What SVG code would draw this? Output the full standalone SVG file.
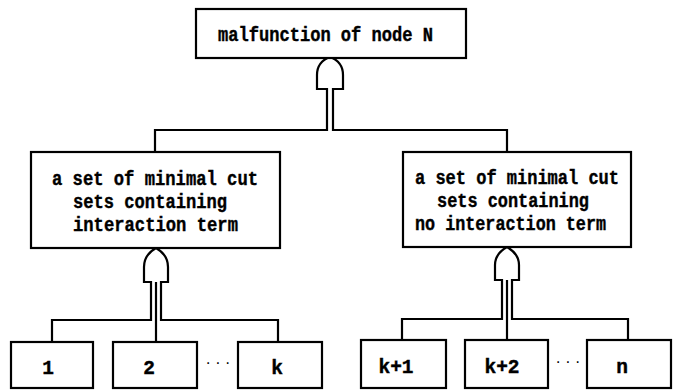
<svg xmlns="http://www.w3.org/2000/svg" width="673" height="390" viewBox="0 0 673 390">
<style>
.box{fill:#fff;stroke:#000;stroke-width:2.2}
.ln{fill:none;stroke:#000;stroke-width:2.2;stroke-linejoin:miter}
.t{font-family:"Liberation Mono","DejaVu Sans Mono",monospace;font-weight:bold;font-size:19.5px;fill:#000;stroke:#000;stroke-width:0.4}
.c{text-anchor:middle}
.d{font-family:"Liberation Sans",sans-serif;font-size:16px;fill:#000;text-anchor:middle}
</style>
<rect width="673" height="390" fill="#fff"/>
<g id="connectors">
<path class="ln" d="M155,152 L155,130 L327,130 L327,89 L317,89 L317,75 C317,66 322,60 330,57 C338,60 343,66 343,75 L343,89 L333,89 L333,130 L507,130 L507,152"/>
<path class="ln" d="M52,342 L52,320 L151,320 L151,282 L144,282 L144,267 C144,258 149,252 156,248 C163,252 168,258 168,267 L168,282 L161,282 L161,320 L278,320 L278,342"/>
<path class="ln" d="M156,282 L156,342"/>
<path class="ln" d="M402,340 L402,319 L502,319 L502,280 L495,280 L495,265 C495,256 500,251 507,247 C514,251 519,256 519,265 L519,280 L512,280 L512,319 L628,319 L628,340"/>
<path class="ln" d="M507,280 L507,340"/>
</g>
<g id="top">
<rect class="box" x="196" y="9" width="270" height="49"/>
<text class="t" x="218" y="41" textLength="215" lengthAdjust="spacingAndGlyphs">malfunction of node N</text>
</g>
<g id="left">
<rect class="box" x="31" y="152" width="249" height="96"/>
<text class="t" x="52" y="185" textLength="206" lengthAdjust="spacingAndGlyphs">a set of minimal cut</text>
<text class="t" x="73" y="208" textLength="154" lengthAdjust="spacingAndGlyphs">sets containing</text>
<text class="t" x="73" y="231" textLength="165" lengthAdjust="spacingAndGlyphs">interaction term</text>
</g>
<g id="right">
<rect class="box" x="403" y="152" width="228" height="95"/>
<text class="t" x="415" y="184" textLength="204" lengthAdjust="spacingAndGlyphs">a set of minimal cut</text>
<text class="t" x="437" y="207" textLength="152" lengthAdjust="spacingAndGlyphs">sets containing</text>
<text class="t" x="415" y="230" textLength="191" lengthAdjust="spacingAndGlyphs">no interaction term</text>
</g>
<g id="n1"><rect class="box" x="11" y="342" width="82" height="46"/><text class="t c" x="48" y="374">1</text></g>
<g id="n2"><rect class="box" x="113" y="342" width="84" height="46"/><text class="t c" x="149" y="374">2</text></g>
<text class="d" x="218" y="368">· · ·</text>
<g id="nk"><rect class="box" x="238" y="342" width="84" height="46"/><text class="t c" x="277" y="374">k</text></g>
<g id="nk1"><rect class="box" x="361" y="340" width="85" height="48"/><text class="t c" x="396" y="373">k+1</text></g>
<g id="nk2"><rect class="box" x="465" y="340" width="83" height="48"/><text class="t c" x="502" y="373">k+2</text></g>
<text class="d" x="568" y="367">· · ·</text>
<g id="nn"><rect class="box" x="587" y="340" width="84" height="48"/><text class="t c" x="622" y="373">n</text></g>
</svg>
